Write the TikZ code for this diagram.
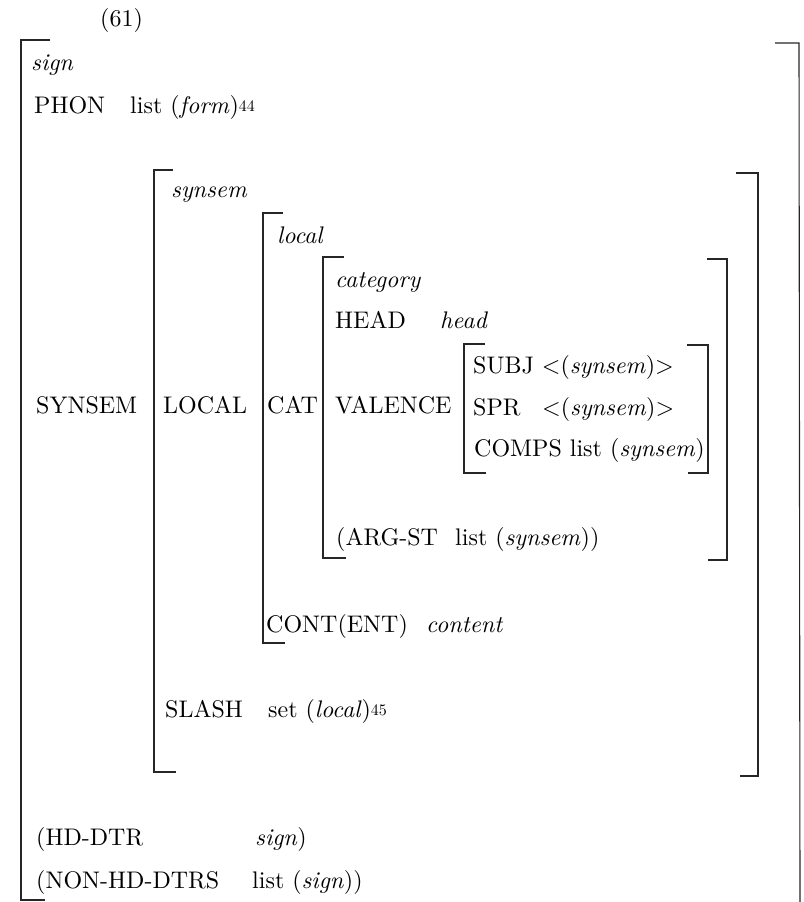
\documentclass[tikz,border=0pt]{standalone}
\usepackage{fontspec}
\setmainfont{lmroman10-regular.otf}[ItalicFont=lmroman10-italic.otf, BoldFont=lmroman10-bold.otf]
\newcommand{\supnum}[1]{\raisebox{2pt}{\fontsize{16}{16}\selectfont #1}}
\begin{document}
\begin{tikzpicture}[x=1pt,y=-1pt,
  txt/.style={anchor=base west, inner sep=0pt, font=\fontsize{24}{28}\selectfont},
  brk/.style={draw=black!85, line width=1.1pt, line join=miter}]
\useasboundingbox (0,0) rectangle (803,902);
% texts
\node[txt] (n61) at (100,27) {(61)};
\node[txt] (sign) at (31,70) {\textit{sign}};
\node[txt] (phon) at (34,113) {PHON};
\node[txt] (phonv) at (130,113) {list (\textit{form})\supnum{44}};
\node[txt] (synsemt) at (171,197) {\textit{synsem}};
\node[txt] (localt) at (277,243) {\textit{local}};
\node[txt] (catt) at (335,287) {\textit{category}};
\node[txt] (head) at (335,328) {HEAD};
\node[txt] (headv) at (440,328) {\textit{head}};
\node[txt] (synsem) at (36,413) {SYNSEM};
\node[txt] (local) at (163,413) {LOCAL};
\node[txt] (cat) at (267,413) {CAT};
\node[txt] (val) at (335,413) {VALENCE};
\node[txt] (subj) at (473,373) {SUBJ <(\textit{synsem})>};
\node[txt] (spr) at (473,415) {SPR};
\node[txt] (sprv) at (542,415) {<(\textit{synsem})>};
\node[txt] (comps) at (474,456) {COMPS list (\textit{synsem})};
\node[txt] (argst) at (336,545) {(ARG-ST};
\node[txt] (argstv) at (455,545) {list (\textit{synsem}))};
\node[txt] (cont) at (266,632) {CONT(ENT)};
\node[txt] (contv) at (426,632) {\textit{content}};
\node[txt] (slash) at (165,717) {SLASH};
\node[txt] (slashv) at (268,717) {set (\textit{local})\supnum{45}};
\node[txt] (hd) at (36,845) {(HD-DTR};
\node[txt] (hdv) at (255,845) {\textit{sign})};
\node[txt] (nhd) at (36,888) {(NON-HD-DTRS};
\node[txt] (nhdv) at (252,888) {list (\textit{sign}))};
% brackets
\draw[brk] (50,40) -- (21,40) -- (21,900) -- (45,900);
\draw[brk] (775,43) -- (799,43) -- (800,902);
\draw[brk] (173,170) -- (154,170) -- (154,772) -- (176,772);
\draw[brk] (736,173) -- (758,173) -- (758,776) -- (740,776);
\draw[brk] (283,213) -- (263,213) -- (263,643) -- (285,643);
\draw[brk] (344,257) -- (323,257) -- (323,558) -- (346,558);
\draw[brk] (707,259) -- (727,259) -- (727,560) -- (708,560);
\draw[brk] (485,344) -- (464,344) -- (464,473) -- (486,473);
\draw[brk] (687,345) -- (708,345) -- (708,473) -- (688,473);
\end{tikzpicture}
\end{document}
